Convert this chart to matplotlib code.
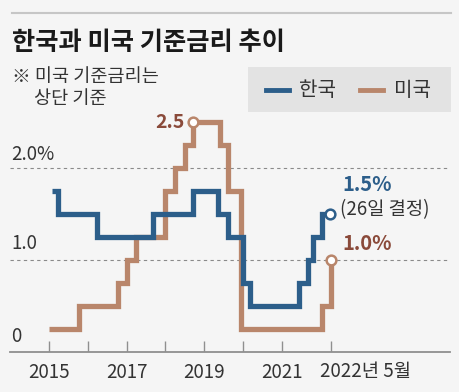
import matplotlib
matplotlib.use("Agg")
import matplotlib.pyplot as plt
from matplotlib.lines import Line2D
from matplotlib.patches import Rectangle

# ---- data (decimal year of each change, rate after change) ----
kr_dates = [2015.06, 2015.23, 2016.22, 2017.69, 2018.72, 2019.36, 2019.62, 2019.99,
            2020.18, 2021.44, 2021.69, 2021.80, 2022.04, 2022.25]
kr_rates = [1.75, 1.5, 1.25, 1.5, 1.75, 1.5, 1.25, 0.75, 0.5, 0.75, 1.0, 1.25, 1.5, 1.5]

us_dates = [2015.0, 2015.77, 2016.78, 2017.0, 2017.24, 2017.99, 2018.24, 2018.5, 2018.72,
            2019.41, 2019.62, 2019.96, 2022.03, 2022.27]
us_rates = [0.25, 0.5, 0.75, 1.0, 1.25, 1.75, 2.0, 2.25, 2.5, 2.25, 1.75, 0.25, 0.5, 1.0]

tick_years = [2015, 2016, 2017, 2018, 2019, 2020, 2021, 2022.27]
tick_labels = {2015: "2015", 2017: "2017", 2019: "2019", 2021: "2021"}

BLUE = "#2c5e8a"
TAN = "#b9866b"
BROWN = "#8a4a3a"
BG = "#f5f5f5"

NUM = ["Liberation Sans Narrow", "Noto Sans CJK KR", "DejaVu Sans"]
KOR = ["Noto Sans CJK KR", "DejaVu Sans"]

W, H = 459, 392
fig = plt.figure(figsize=(W / 100, H / 100), dpi=100, facecolor=BG)

# axes pixel geometry
px_per_year = 38.73
x0px, x2015px = 10, 49.3
x1px = 450
xmin = 2015 - (x2015px - x0px) / px_per_year
xmax = 2015 + (x1px - x2015px) / px_per_year
y0px = 351.7
px_per_unit = 91.7
ytop_px = 100
ymax = (y0px - ytop_px) / px_per_unit

ax = fig.add_axes([x0px / W, (H - y0px) / H, (x1px - x0px) / W, (y0px - ytop_px) / H])
ax.set_facecolor(BG)
ax.set_xlim(xmin, xmax)
ax.set_ylim(0, ymax)
for s in ax.spines.values():
    s.set_visible(False)
ax.set_xticks([])
ax.set_yticks([])

# gridlines
for yv in [1.0, 2.0]:
    ax.axhline(yv, color="#8a8a8a", lw=0.8, ls=(0, (3, 3)), zorder=1)
ax.axhline(0, color="#8f8f8f", lw=1.3, zorder=1, clip_on=False)
for t in tick_years:
    ax.plot([t, t], [0, 11 / px_per_unit], color="#8f8f8f", lw=1.0, zorder=1,
            solid_capstyle="butt")

# step lines
ax.step(us_dates, us_rates, where="post", color=TAN, lw=3.8, zorder=3,
        solid_joinstyle="miter", solid_capstyle="butt", clip_on=False)
ax.step(kr_dates, kr_rates, where="post", color=BLUE, lw=3.8, zorder=4,
        solid_joinstyle="miter", solid_capstyle="butt", clip_on=False)

# markers
ax.plot([us_dates[8]], [us_rates[8]], "o", ms=7, mfc="white", mec=TAN, mew=1.8,
        zorder=5, clip_on=False)
ax.plot([us_dates[-1]], [us_rates[-1]], "o", ms=7, mfc="white", mec=TAN, mew=1.8,
        zorder=5, clip_on=False)
ax.plot([kr_dates[-1]], [kr_rates[-1]], "o", ms=7, mfc="white", mec=BLUE, mew=1.8,
        zorder=5, clip_on=False)

# figure-pixel text helper
def ftext(x, y, s, **kw):
    fig.text(x / W, 1 - y / H, s, **kw)

# value labels
ftext(185, 123, "2.5", color=BROWN, fontsize=14, fontweight="bold", family=NUM,
      ha="right", va="center")
ftext(342, 185, "1.5%", color=BLUE, fontsize=14.5, fontweight="bold", family=NUM,
      ha="left", va="center")
ftext(340, 210, "(26일 결정)", color="#333333", fontsize=13.5, family=KOR,
      ha="left", va="center")
ftext(342, 244, "1.0%", color=BROWN, fontsize=14.5, fontweight="bold", family=NUM,
      ha="left", va="center")

# y labels
ftext(11, 155, "2.0%", color="#333333", fontsize=13.5, family=NUM, ha="left", va="center")
ftext(11, 243, "1.0", color="#333333", fontsize=13.5, family=NUM, ha="left", va="center")
ftext(11, 337, "0", color="#333333", fontsize=13.5, family=NUM, ha="left", va="center")

# x labels
for yr, lab in tick_labels.items():
    xp = x2015px + (yr - 2015) * px_per_year
    ftext(xp, 372, lab, color="#333333", fontsize=13.5, family=NUM, ha="center",
          va="center")
ftext(320, 372, "2022년 5월", color="#333333", fontsize=13.5, family=NUM, ha="left",
      va="center")

# top rule
fig.add_artist(Line2D([12 / W, 451 / W], [1 - 13 / H, 1 - 13 / H], color="#c6c6c6",
                      lw=1.5))

# title & note
ftext(12, 42, "한국과 미국 기준금리 추이", color="#1a1a1a", fontsize=18.2,
      fontweight="bold", family=KOR, ha="left", va="center")
ftext(12, 77, "※ 미국 기준금리는", color="#333333", fontsize=13.4, family=KOR,
      ha="left", va="center")
ftext(34, 99, "상단 기준", color="#333333", fontsize=13.4, family=KOR,
      ha="left", va="center")

# legend box
fig.add_artist(Rectangle((248 / W, 1 - 112 / H), (451 - 248) / W, (112 - 67) / H,
                         transform=fig.transFigure, facecolor="#e3e3e3",
                         edgecolor="none"))
fig.add_artist(Line2D([266 / W, 289 / W], [1 - 90 / H, 1 - 90 / H], color=BLUE, lw=3.5))
ftext(299, 90, "한국", color="#333333", fontsize=14.5, family=KOR, ha="left", va="center")
fig.add_artist(Line2D([360 / W, 383 / W], [1 - 90 / H, 1 - 90 / H], color=TAN, lw=3.5))
ftext(394, 90, "미국", color="#333333", fontsize=14.5, family=KOR, ha="left", va="center")

fig.savefig("out.png", dpi=100, facecolor=BG)
